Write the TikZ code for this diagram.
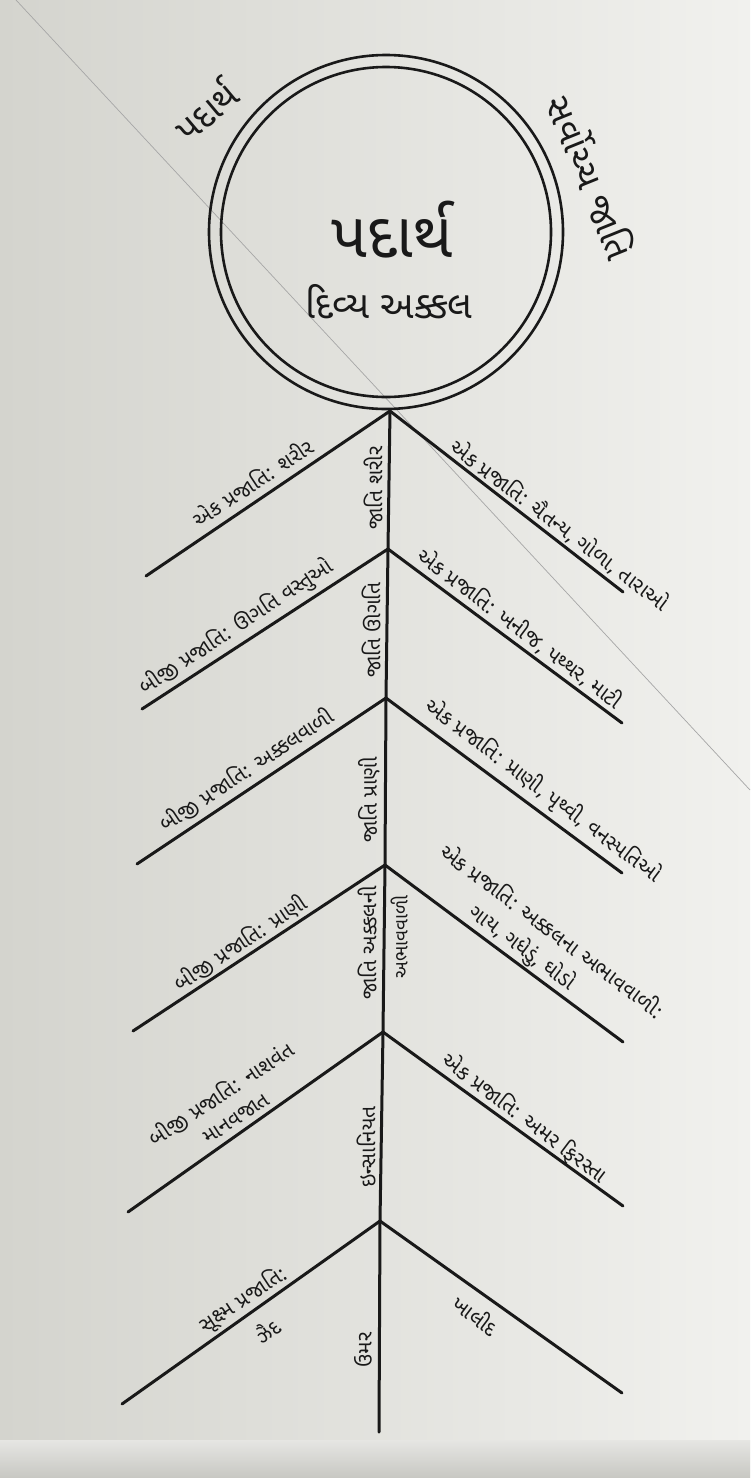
\documentclass[tikz,border=0pt]{standalone}
\usepackage{fontspec}
\newfontfamily\guj[Script=Gujarati]{Noto Sans Gujarati UI}
\definecolor{bgl}{RGB}{212,212,206}
\definecolor{bgr}{RGB}{241,241,238}
\definecolor{ink}{RGB}{25,25,25}
\begin{document}
\begin{tikzpicture}[x=1pt,y=-1pt,
  branch/.style={line width=3pt, draw=ink, line cap=round},
  ring/.style={line width=2.6pt, draw=ink},
  lbl/.style={font=\guj\fontsize{21}{27}\selectfont, text=ink, inner sep=0pt, align=center},
  lblL/.style={lbl, rotate=33.5},
  lblR/.style={lbl, rotate=-37},
  spl/.style={lbl, rotate=90}]
\useasboundingbox (0,0) rectangle (750,1478);
\fill[left color=bgl, right color=bgr] (0,0) rectangle (750,1478);
\fill[top color=bgr!90!gray, bottom color=bgl!85!gray] (0,1440) rectangle (750,1478);
% faint diagonal line across the photo
\coordinate (d1) at (16,0);
\coordinate (d2) at (750,790);
\draw[gray!70, line width=0.7pt] (d1) -- (d2);
% circles
\coordinate (c) at (386,232);
\draw[ring] (c) circle (177);
\draw[ring] (c) circle (165);
\node[font=\guj\fontsize{63}{66}\selectfont, text=ink, inner sep=0pt] (title) at (392,230) {પદાર્થ};
\node[font=\guj\fontsize{38}{42}\selectfont, text=ink, inner sep=0pt] (sub) at (389,302) {દિવ્ય અક્કલ};
\node[font=\guj\fontsize{36}{40}\selectfont, text=ink, inner sep=0pt, rotate=40] (outl) at (205,110) {પદાર્થ};
\node[font=\guj\fontsize{36}{40}\selectfont, text=ink, inner sep=0pt, rotate=-68] (outr) at (592,177) {સર્વોચ્ચ જાતિ};
% spine junctions
\coordinate (J1) at (390,411);
\coordinate (J2) at (388,549);
\coordinate (J3) at (386,698);
\coordinate (J4) at (385,865);
\coordinate (J5) at (383,1032);
\coordinate (J6) at (380,1221);
\coordinate (B) at (379,1432);
% left ends
\coordinate (L1) at (146,576);
\coordinate (L2) at (142,709);
\coordinate (L3) at (137,864);
\coordinate (L4) at (133,1031);
\coordinate (L5) at (128,1212);
\coordinate (L6) at (122,1404);
% right ends
\coordinate (R1) at (623,592);
\coordinate (R2) at (622,723);
\coordinate (R3) at (622,873);
\coordinate (R4) at (623,1042);
\coordinate (R5) at (623,1206);
\coordinate (R6) at (622,1393);
\draw[branch] (J1) -- (J2) -- (J3) -- (J4) -- (J5) -- (J6) -- (B);
\foreach \i in {1,...,6}{
  \draw[branch] (J\i) -- (L\i);
  \draw[branch] (J\i) -- (R\i);
}
% left labels
\node[lblL] (tl1) at (252,482) {એક પ્રજાતિ: શરીર};
\node[lblL] (tl2) at (236,627) {બીજી પ્રજાતિ: ઊગતિ વસ્તુઓ};
\node[lblL] (tl3) at (246,770) {બીજી પ્રજાતિ: અક્કલવાળી};
\node[lblL] (tl4) at (240,943) {બીજી પ્રજાતિ: પ્રાણી};
\node[lblL] (tl5a) at (221,1094) {બીજી પ્રજાતિ: નાશવંત};
\node[lblL] (tl5b) at (236,1119) {માનવજાત};
\node[lblL] (tl6a) at (243,1300) {સૂક્ષ્મ પ્રજાતિ:};
\node[lblL] (tl6b) at (267,1330) {ઝૈદ};
% right labels
\node[lblR] (tr1) at (560,525) {એક પ્રજાતિ: ચૈતન્ય, ગોળા, તારાઓ};
\node[lblR] (tr2) at (520,628) {એક પ્રજાતિ: ખનીજ, પથ્થર, માટી};
\node[lblR] (tr3) at (543,791) {એક પ્રજાતિ: પ્રાણી, પૃથ્વી, વનસ્પતિઓ};
\node[lblR] (tr4a) at (553,930) {એક પ્રજાતિ: અક્કલના અભાવવાળી:};
\node[lblR] (tr4b) at (522,948) {ગાય, ગધેડું, ઘોડો};
\node[lblR] (tr5) at (525,1118) {એક પ્રજાતિ: અમર ફિરસ્તા};
\node[lblR] (tr6) at (476,1315) {ખાલીદ};
% spine labels
\node[spl] (s1) at (373,488) {જાતિ શરીર};
\node[spl] (s2) at (371,630) {જાતિ ઊગતિ};
\node[spl] (s3) at (369,800) {જાતિ પ્રાણી};
\node[spl] (s4) at (367,943) {જાતિ અક્કલની};
\node[spl, font=\guj\fontsize{19}{22}\selectfont] (s4r) at (399,937) {અભાવવાળી};
\node[spl] (s5) at (366,1147) {ઇન્સાનિયત};
\node[spl] (s6) at (363,1350) {ઉમર};
\end{tikzpicture}
\end{document}
